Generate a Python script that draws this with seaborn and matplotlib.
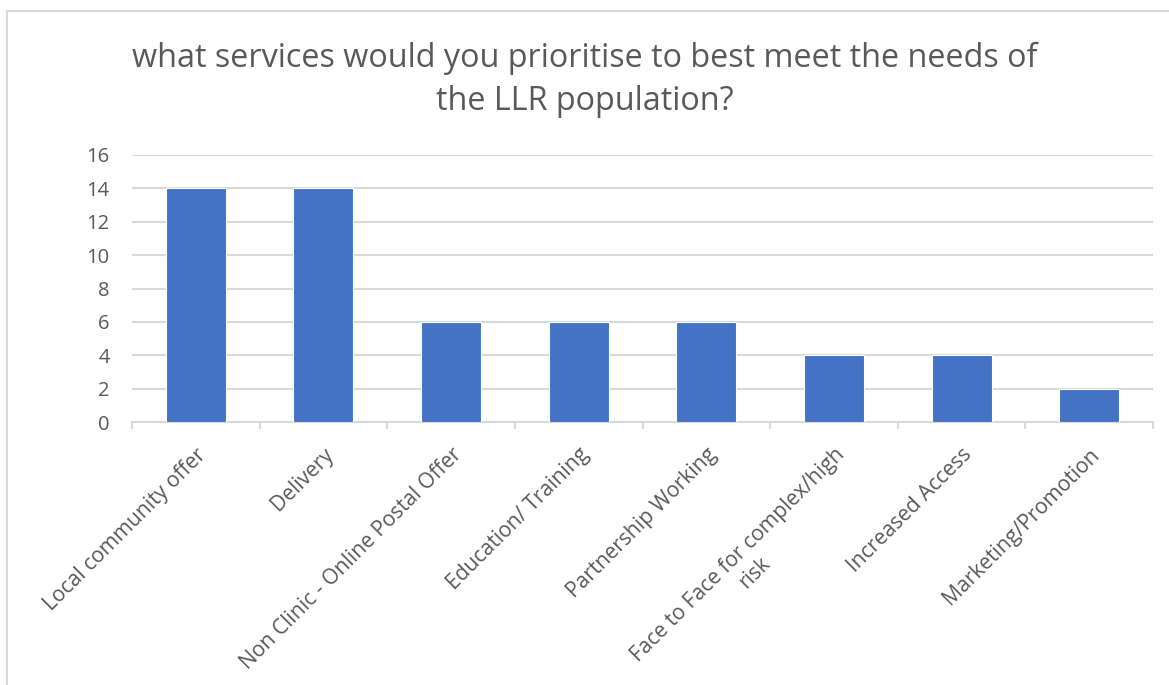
import matplotlib
matplotlib.use("Agg")
import matplotlib.pyplot as plt
import seaborn as sns
import pandas as pd

categories = ["Local community offer", "Delivery", "Non Clinic - Online Postal Offer",
              "Education/ Training", "Partnership Working",
              "Face to Face for complex/high\nrisk", "Increased Access", "Marketing/Promotion"]
values = [14, 14, 6, 6, 6, 4, 4, 2]
yticks = [0, 2, 4, 6, 8, 10, 12, 14, 16]
title_lines = ["what services would you prioritise to best meet the needs of",
               "the LLR population?"]

sns.set_theme(style="white")
plt.rcParams['font.family'] = ['Open Sans', 'DejaVu Sans']

df = pd.DataFrame({"cat": categories, "val": values})

W, H = 1169, 685
fig = plt.figure(figsize=(W / 100, H / 100), dpi=100)
ax = fig.add_axes([132 / W, 1 - 422 / H, (1153 - 132) / W, (422 - 155) / H])

sns.barplot(data=df, x="cat", y="val", color="#4472C4", width=0.47, ax=ax,
            saturation=1, edgecolor="white", linewidth=0.8, zorder=3)

ax.set_ylim(0, 16)
ax.set_xlim(-0.5, len(categories) - 0.5)
ax.set_yticks(yticks)
ax.set_yticklabels([str(t) for t in yticks], color="#595959", fontsize=14.5)
for t in yticks[1:]:
    ax.axhline(t, color="#d9d9d9", linewidth=1.5, zorder=1)
ax.set_xlabel("")
ax.set_ylabel("")
for s in ["top", "right", "left"]:
    ax.spines[s].set_visible(False)
ax.spines["bottom"].set_color("#d9d9d9")
ax.spines["bottom"].set_linewidth(1.5)
ax.tick_params(axis="y", length=0, pad=16)

# Category boundary tick marks
for b in [i - 0.5 for i in range(len(categories) + 1)]:
    ax.plot([b, b], [0, -0.36], color="#d9d9d9", linewidth=1.5, clip_on=False, zorder=2)

ax.set_xticks(range(len(categories)))
ax.set_xticklabels(categories, rotation=45, ha="right", va="top", rotation_mode="anchor",
                   color="#595959", fontsize=15.2, multialignment="center")
ax.tick_params(axis="x", length=0, pad=16)

fig.text(0.5, 1 - 67 / H, title_lines[0], ha="center", va="baseline", fontsize=23.3,
         color="#595959")
fig.text(0.5, 1 - 110 / H, title_lines[1], ha="center", va="baseline", fontsize=23.3,
         color="#595959")

# Outer chart border (partially cropped)
fig.add_artist(plt.Line2D([7 / W, 7 / W], [0, 1 - 11 / H], color="#d9d9d9", linewidth=1.5))
fig.add_artist(plt.Line2D([7 / W, 1], [1 - 11 / H, 1 - 11 / H], color="#d9d9d9", linewidth=1.5))

fig.savefig("out.png", dpi=100, facecolor="white")
